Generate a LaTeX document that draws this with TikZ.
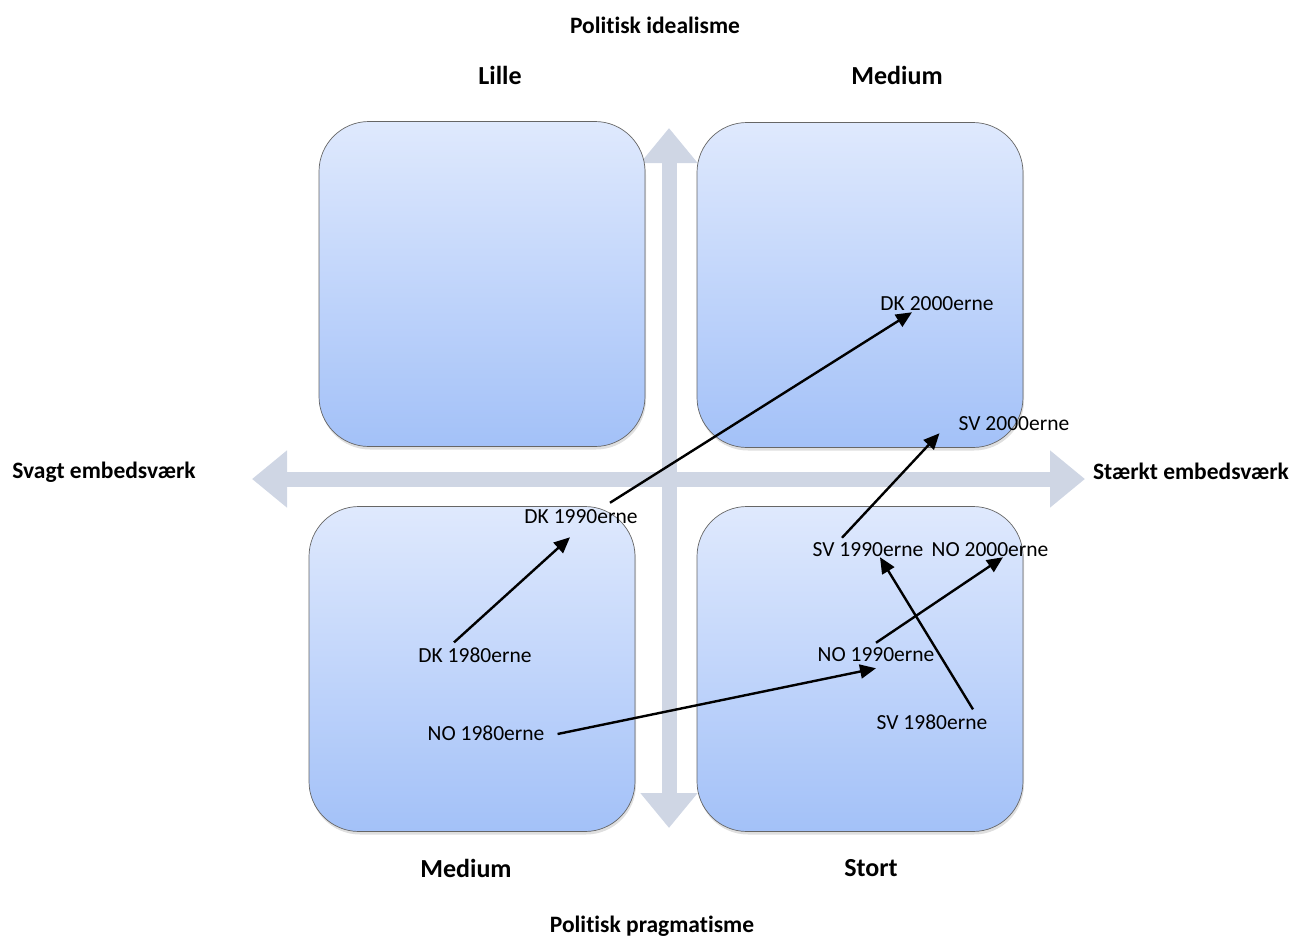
\documentclass[tikz,border=0pt]{standalone}
\usepackage{fontspec}
\setmainfont{Carlito}[Ligatures={NoCommon,NoContextual,NoRequired}]
\usetikzlibrary{arrows.meta,shadows}

\definecolor{quadtop}{HTML}{DFE9FD}
\definecolor{quadbot}{HTML}{A3C1F8}
\definecolor{axiscol}{HTML}{CFD6E4}

\tikzset{
  quad/.style={draw=black!60, line width=0.7pt, rounded corners=50pt,
    top color=quadtop, bottom color=quadbot, inner sep=0pt,
    minimum width=326pt, minimum height=325pt,
    drop shadow={opacity=0.25, shadow xshift=1pt, shadow yshift=-3pt}},
  axis/.style={line width=15pt, draw=axiscol,
    {Triangle[width=55pt,length=35pt]}-{Triangle[width=55pt,length=35pt]}},
  period/.style={inner sep=0pt, font=\fontsize{21.5}{24}\selectfont},
  axlabel/.style={inner sep=0pt, font=\fontsize{23.5}{26}\selectfont\bfseries},
  sizelabel/.style={inner sep=0pt, font=\fontsize{26}{30}\selectfont\bfseries},
  move/.style={line width=2.4pt, -{Triangle[length=16pt,width=14pt]}}
}

\begin{document}
\begin{tikzpicture}[x=1pt,y=-1pt]
  \useasboundingbox (0,0) rectangle (1294,938);

    % --------------------------------------------------------- %
    % ------------- axes
    % --------------------------------------------------------- %
    \coordinate (ytop) at (669,128);
    \coordinate (ybot) at (669,828);
    \coordinate (xleft) at (252,479);
    \coordinate (xright) at (1085,479);
    \draw [axis] (xleft) -- (xright);
    \draw [axis] (ybot) -- (ytop);

    % --- axis labels
    \node[axlabel] (ideal) at (655,25) {Politisk idealisme};
    \node[axlabel] (pragm) at (652,926) {Politisk pragmatisme};
    \node[axlabel] (svagt) at (104,472) {Svagt embedsværk};
    \node[axlabel] (staerkt) at (1191,471) {Stærkt embedsværk};

    % --------------------------------------------------------- %
    % ------------- quadrants
    % --------------------------------------------------------- %
    \node[quad] (qtl) at (482,284) {};
    \node[quad] (qtr) at (860,285) {};
    \node[quad] (qbl) at (472,669) {};
    \node[quad] (qbr) at (860,669) {};
    % --- quadrant labels
    \node[sizelabel] (lille) at (500,75) {Lille};
    \node[sizelabel] (medtop) at (897,75) {Medium};
    \node[sizelabel] (medbot) at (466,868) {Medium};
    \node[sizelabel] (stort) at (871,868) {Stort};

    % --------------------------------------------------------- %
    % ------------- periods
    % --------------------------------------------------------- %
    % --- DK
    \node[period] (dk80) at (475,655) {DK 1980erne};
    \node[period] (dk90) at (581,517) {DK 1990erne};
    \node[period] (dk00) at (937,304) {DK 2000erne};
    \draw [move] ([xshift=-21pt,yshift=5pt]dk80.north) -- ([xshift=-11pt,yshift=-13pt]dk90.south);
    \draw [move] ([xshift=29pt,yshift=7pt]dk90.north) -- ([xshift=-25pt,yshift=-1pt]dk00.south);
    % --- NO
    \node[period] (no80) at (486,733) {NO 1980erne};
    \node[period] (no90) at (876,655) {NO 1990erne};
    \node[period] (no00) at (990,550) {NO 2000erne};
    \draw [move] ([xshift=13pt,yshift=-1pt]no80.east) -- ([yshift=-6pt]no90.south);
    \draw [move] ([yshift=5pt]no90.north) -- ([xshift=13pt]no00.south);
    % --- SV
    \node[period] (sv80) at (932,722) {SV 1980erne};
    \node[period] (sv90) at (868,550) {SV 1990erne};
    \node[period] (sv00) at (1014,424) {SV 2000erne};
    \draw [move] ([xshift=41pt,yshift=5pt]sv80.north) -- ([xshift=12pt]sv90.south);
    \draw [move] ([xshift=-26pt,yshift=5pt]sv90.north) -- ([xshift=-19pt,yshift=-2pt]sv00.south west);

\end{tikzpicture}
\end{document}
